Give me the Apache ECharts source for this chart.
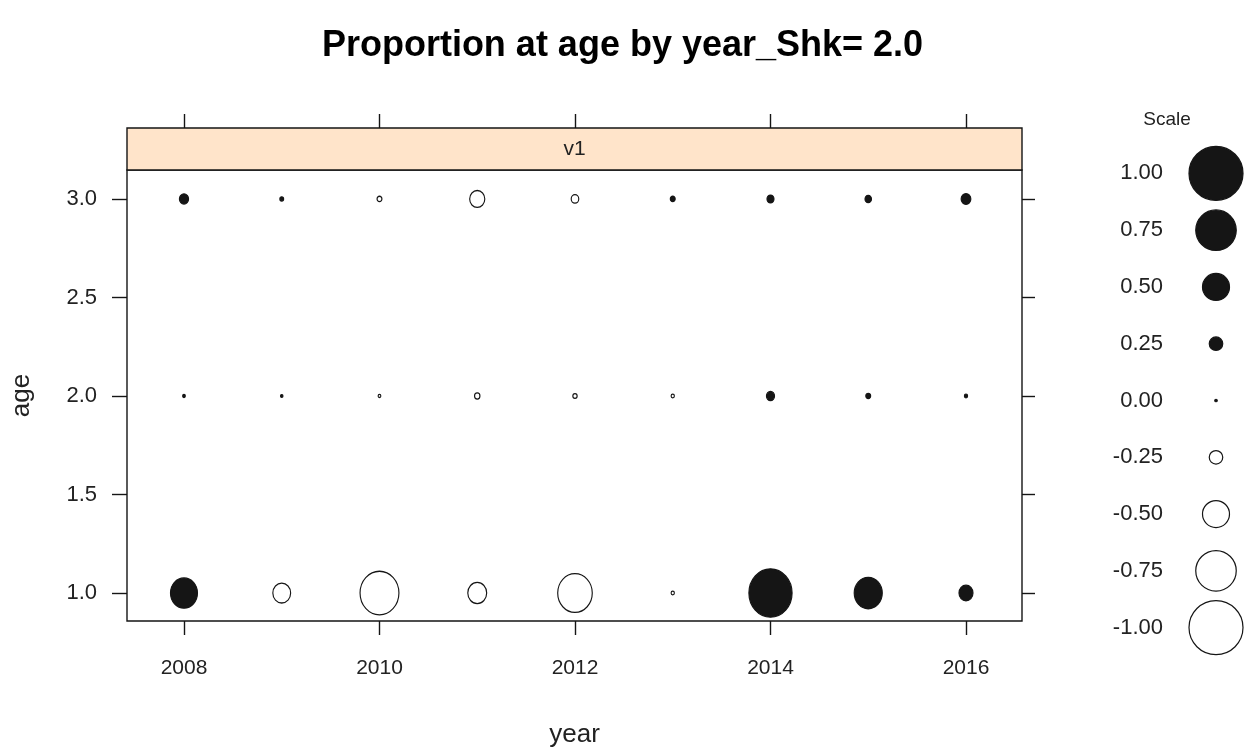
<!DOCTYPE html>
<html>
<head>
<meta charset="utf-8">
<script src="https://cdn.jsdelivr.net/npm/echarts@6/dist/echarts.min.js"></script>
<style>
  html, body { margin: 0; padding: 0; background: #ffffff; }
  #chart { width: 1245px; height: 753px; }
</style>
</head>
<body>
<div id="chart"></div>
<script>
// Survey years and ages of the bubble grid
const years = [2008, 2009, 2010, 2011, 2012, 2013, 2014, 2015, 2016];
const ages = [1, 2, 3];

// Residual proportion at age, one array per age (index follows years)
const propAge1 = [0.50, -0.33, -0.72, -0.35, -0.64, -0.06, 0.80, 0.52, 0.26];
const propAge2 = [0.05, 0.03, -0.05, -0.10, -0.08, -0.06, 0.15, 0.09, 0.06];
const propAge3 = [0.17, 0.07, -0.09, -0.28, -0.14, 0.09, 0.13, 0.12, 0.18];

// Tick positions
const xTicks = [2008, 2010, 2012, 2014, 2016];
const yTicks = [1.0, 1.5, 2.0, 2.5, 3.0];

// Bubble size key (top to bottom)
const scaleValues = [1.00, 0.75, 0.50, 0.25, 0.00, -0.25, -0.50, -0.75, -1.00];

const panelName = 'v1';
const titleText = 'Proportion at age by year_Shk= 2.0';

const FONT = '"Liberation Sans", Arial, sans-serif';
const INK = '#151515';

// bubble diameter grows linearly with |value|; a tiny dot marks zero
const unitDiameter = 54;
function diameter(v) { return Math.max(2.5, unitDiameter * Math.abs(v)); }

const propByAge = [propAge1, propAge2, propAge3];
const bubbleData = [];
ages.forEach((a, ai) => {
  years.forEach((y, yi) => {
    bubbleData.push([y, a, propByAge[ai][yi]]);
  });
});

const keyLabels = scaleValues.map(v => v.toFixed(2));
const keyData = scaleValues.map(v => [0.5, v.toFixed(2), v]);

const bubbleStyle = {
  color: p => (p.value[2] >= 0 ? INK : '#ffffff'),
  borderColor: INK,
  borderWidth: 1.2,
  opacity: 1
};

const chart = echarts.init(document.getElementById('chart'), null, { renderer: 'canvas' });

const option = {
  backgroundColor: '#ffffff',
  animation: false,
  title: [
    {
      text: titleText,
      left: 'center',
      top: 23,
      textStyle: { fontFamily: FONT, fontSize: 36, fontWeight: 'bold', color: '#000' }
    },
    {
      text: 'Scale',
      left: 1162,
      top: 105,
      textAlign: 'center',
      textStyle: { fontFamily: FONT, fontSize: 19, fontWeight: 'normal', color: '#222' }
    }
  ],
  grid: [
    { left: 127, top: 170, width: 895, height: 452, show: true, borderColor: INK, borderWidth: 1.4, backgroundColor: '#fff' },
    { left: 1190, top: 145, width: 52, height: 511, show: false }
  ],
  xAxis: [
    {
      gridIndex: 0, type: 'value', position: 'bottom',
      min: 2007.417, max: 2016.573,
      name: 'year', nameLocation: 'middle', nameGap: 101,
      nameTextStyle: { fontFamily: FONT, fontSize: 26, color: '#222' },
      axisLine: { show: false },
      axisTick: { show: true, inside: false, length: 14, customValues: xTicks, lineStyle: { color: INK, width: 1.4 } },
      axisLabel: { customValues: xTicks, margin: 37, fontFamily: FONT, fontSize: 21, color: '#222', formatter: v => String(v) },
      splitLine: { show: false }
    },
    {
      gridIndex: 0, type: 'value', position: 'top', offset: 42,
      min: 2007.417, max: 2016.573,
      axisLine: { show: false },
      axisTick: { show: true, inside: false, length: 14, customValues: xTicks, lineStyle: { color: INK, width: 1.4 } },
      axisLabel: { show: false },
      splitLine: { show: false }
    },
    { gridIndex: 1, type: 'value', min: 0, max: 1, show: false }
  ],
  yAxis: [
    {
      gridIndex: 0, type: 'value', position: 'left',
      min: 0.858, max: 3.147,
      name: 'age', nameLocation: 'middle', nameGap: 92, nameRotate: 90,
      nameTextStyle: { fontFamily: FONT, fontSize: 26, color: '#222' },
      axisLine: { show: false },
      axisTick: { show: true, inside: false, length: 15, customValues: yTicks, lineStyle: { color: INK, width: 1.4 } },
      axisLabel: { customValues: yTicks, margin: 30, fontFamily: FONT, fontSize: 22, color: '#222', formatter: v => v.toFixed(1) },
      splitLine: { show: false }
    },
    {
      gridIndex: 0, type: 'value', position: 'right',
      min: 0.858, max: 3.147,
      axisLine: { show: false },
      axisTick: { show: true, inside: false, length: 13, customValues: yTicks, lineStyle: { color: INK, width: 1.4 } },
      axisLabel: { show: false },
      splitLine: { show: false }
    },
    {
      gridIndex: 1, type: 'category', data: keyLabels.slice().reverse(),
      axisLine: { show: false }, axisTick: { show: false },
      axisLabel: { margin: 27, fontFamily: FONT, fontSize: 22, color: '#222' },
      splitLine: { show: false }
    }
  ],
  graphic: [
    {
      type: 'rect', z: 10,
      shape: { x: 127, y: 128, width: 895, height: 42 },
      style: { fill: '#FFE4CA', stroke: INK, lineWidth: 1.4 }
    },
    {
      type: 'text', z: 11, x: 574.5, y: 149,
      style: { text: panelName, fontFamily: FONT, fontSize: 21, fill: '#222', align: 'center', verticalAlign: 'middle' }
    }
  ],
  series: [
    {
      type: 'scatter', xAxisIndex: 0, yAxisIndex: 0,
      data: bubbleData,
      symbol: 'circle',
      symbolSize: v => { const d = diameter(v[2]); return [d, d * 1.12]; },
      itemStyle: bubbleStyle,
      emphasis: { disabled: true }
    },
    {
      type: 'scatter', xAxisIndex: 2, yAxisIndex: 2,
      data: keyData,
      symbol: 'circle',
      symbolSize: v => diameter(v[2]),
      itemStyle: bubbleStyle,
      emphasis: { disabled: true }
    }
  ]
};

chart.setOption(option);
</script>
</body>
</html>
